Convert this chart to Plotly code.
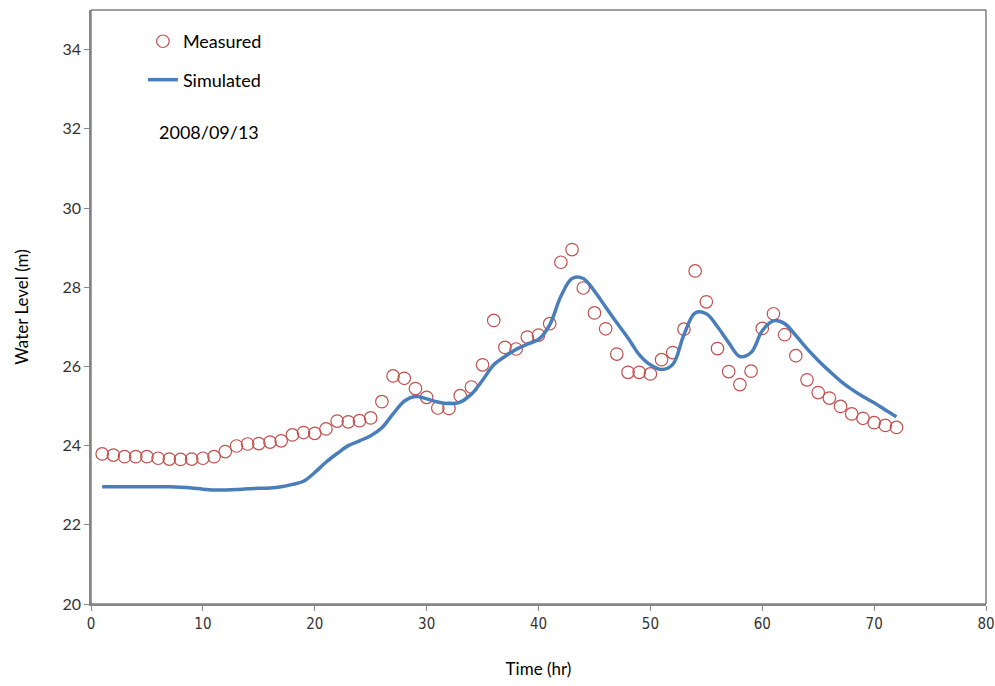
import plotly.graph_objects as go

hours = list(range(1, 73))
measured = [23.79, 23.76, 23.72, 23.72, 23.72, 23.68, 23.66, 23.65, 23.66, 23.68,
            23.72, 23.85, 23.99, 24.04, 24.05, 24.09, 24.12, 24.27, 24.33, 24.31,
            24.42, 24.62, 24.60, 24.63, 24.70, 25.11, 25.76, 25.70, 25.44, 25.22,
            24.95, 24.94, 25.26, 25.48, 26.04, 27.16, 26.48, 26.44, 26.74, 26.79,
            27.08, 28.63, 28.95, 27.98, 27.35, 26.95, 26.31, 25.85, 25.85, 25.81,
            26.17, 26.35, 26.94, 28.41, 27.63, 26.45, 25.87, 25.54, 25.88, 26.96,
            27.33, 26.80, 26.27, 25.66, 25.34, 25.20, 24.99, 24.80, 24.69, 24.58,
            24.51, 24.46]
simulated = [22.96, 22.96, 22.96, 22.96, 22.96, 22.96, 22.96, 22.95, 22.93, 22.90,
             22.88, 22.88, 22.89, 22.91, 22.92, 22.93, 22.96, 23.02, 23.10, 23.32,
             23.58, 23.80, 24.00, 24.12, 24.25, 24.45, 24.80, 25.12, 25.24, 25.18,
             25.10, 25.06, 25.10, 25.30, 25.65, 26.04, 26.25, 26.43, 26.56, 26.68,
             27.05, 27.77, 28.22, 28.22, 27.90, 27.50, 27.10, 26.72, 26.30, 26.04,
             25.92, 26.05, 26.80, 27.35, 27.33, 27.00, 26.60, 26.25, 26.35, 26.90,
             27.15, 27.08, 26.78, 26.45, 26.15, 25.88, 25.63, 25.42, 25.24, 25.08,
             24.90, 24.73]
x_ticks = [0, 10, 20, 30, 40, 50, 60, 70, 80]
y_ticks = [20, 22, 24, 26, 28, 30, 32, 34]

FONT = "Lato, 'Open Sans', sans-serif"
AXIS_GRAY = "#868686"

fig = go.Figure()
fig.add_trace(go.Scatter(
    x=hours, y=measured, mode="markers", name="Measured", legendgroup="m",
    marker=dict(symbol="circle-open", size=12.5, color="#C0504D",
                line=dict(width=1.2, color="#C0504D")),
))
fig.add_trace(go.Scatter(
    x=hours, y=simulated, mode="lines", name="Simulated", legendgroup="s",
    line=dict(color="#4A7EBB", width=3.5, shape="spline", smoothing=1),
))

fig.update_layout(
    width=995, height=686,
    margin=dict(l=91, r=9, t=10, b=82),
    paper_bgcolor="white", plot_bgcolor="white",
    font=dict(family=FONT, size=17, color="#000000"),
    showlegend=True,
    legend=dict(x=0.058, y=0.978, xanchor="left", yanchor="top",
                bgcolor="rgba(0,0,0,0)", font=dict(size=18, family=FONT),
                tracegroupgap=12, itemwidth=30),
    xaxis=dict(range=[0, 80], tickvals=x_ticks, showgrid=False, zeroline=False,
               showline=True, linecolor=AXIS_GRAY, linewidth=1.5,
               ticks="outside", ticklen=5, tickcolor=AXIS_GRAY, tickwidth=1,
               ticklabeloverflow="allow",
               tickfont=dict(family="'DejaVu Sans Condensed', sans-serif",
                             size=15, color="#333333"),
               title=dict(text="Time (hr)", standoff=31,
                          font=dict(family=FONT, size=17)),
               automargin=False),
    yaxis=dict(range=[20, 35], tickvals=y_ticks, showgrid=False, zeroline=False,
               showline=True, linecolor=AXIS_GRAY, linewidth=1.5,
               ticks="outside", ticklen=5, tickcolor=AXIS_GRAY, tickwidth=1,
               tickfont=dict(family=FONT, size=16, color="#333333"),
               title=dict(text="Water Level (m)", standoff=30,
                          font=dict(family=FONT, size=17)),
               automargin=False),
    shapes=[dict(type="rect", xref="paper", yref="paper", x0=0, x1=1, y0=0, y1=1,
                 line=dict(color="#404040", width=1), layer="below")],
    annotations=[dict(text="2008/09/13", xref="paper", yref="paper",
                      x=0.074, y=0.795, xanchor="left", yanchor="middle",
                      showarrow=False, font=dict(family=FONT, size=18))],
)

fig.write_html("out.html")
